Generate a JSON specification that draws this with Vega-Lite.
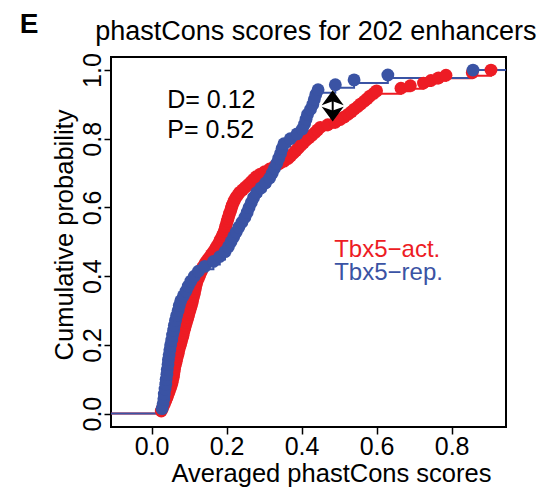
{
  "$schema": "https://vega.github.io/schema/vega-lite/v6.json",
  "autosize": {"type": "none"},
  "padding": {"left": 111, "top": 57, "right": 42, "bottom": 60},
  "width": 395,
  "height": 370,
  "config": {
    "font": "Liberation Sans",
    "view": {"stroke": "black", "strokeWidth": 2},
    "axis": {"grid": false, "domain": false, "tickColor": "black", "tickWidth": 1.5, "tickSize": 7, "labelColor": "black", "titleColor": "black", "labelFontSize": 25, "titleFontSize": 25.5, "titleFontWeight": "normal", "labelFlush": false, "labelOverlap": false, "labelFont": "Liberation Sans", "titleFont": "Liberation Sans"}
  },
  "datasets": {
    "pts": [
      {"g":"a","x":0.026,"y":0.0076},{"g":"a","x":0.029,"y":0.0152},{"g":"a","x":0.032,"y":0.0227},{"g":"a","x":0.035,"y":0.0303},{"g":"a","x":0.038,"y":0.0379},{"g":"a","x":0.041,"y":0.0455},{"g":"a","x":0.043,"y":0.053},{"g":"a","x":0.046,"y":0.0606},{"g":"a","x":0.048,"y":0.0682},{"g":"a","x":0.051,"y":0.0758},
      {"g":"a","x":0.053,"y":0.0833},{"g":"a","x":0.055,"y":0.0909},{"g":"a","x":0.056,"y":0.0985},{"g":"a","x":0.058,"y":0.1061},{"g":"a","x":0.059,"y":0.1136},{"g":"a","x":0.06,"y":0.1212},{"g":"a","x":0.061,"y":0.1288},{"g":"a","x":0.062,"y":0.1364},{"g":"a","x":0.064,"y":0.1439},{"g":"a","x":0.066,"y":0.1515},
      {"g":"a","x":0.067,"y":0.1591},{"g":"a","x":0.069,"y":0.1667},{"g":"a","x":0.071,"y":0.1742},{"g":"a","x":0.072,"y":0.1818},{"g":"a","x":0.074,"y":0.1894},{"g":"a","x":0.076,"y":0.197},{"g":"a","x":0.078,"y":0.2045},{"g":"a","x":0.08,"y":0.2121},{"g":"a","x":0.082,"y":0.2197},{"g":"a","x":0.084,"y":0.2273},
      {"g":"a","x":0.085,"y":0.2348},{"g":"a","x":0.087,"y":0.2424},{"g":"a","x":0.089,"y":0.25},{"g":"a","x":0.091,"y":0.2576},{"g":"a","x":0.093,"y":0.2652},{"g":"a","x":0.095,"y":0.2727},{"g":"a","x":0.097,"y":0.2803},{"g":"a","x":0.099,"y":0.2879},{"g":"a","x":0.101,"y":0.2955},{"g":"a","x":0.103,"y":0.303},
      {"g":"a","x":0.105,"y":0.3106},{"g":"a","x":0.107,"y":0.3182},{"g":"a","x":0.109,"y":0.3258},{"g":"a","x":0.11,"y":0.3333},{"g":"a","x":0.112,"y":0.3409},{"g":"a","x":0.114,"y":0.3485},{"g":"a","x":0.115,"y":0.3561},{"g":"a","x":0.117,"y":0.3636},{"g":"a","x":0.118,"y":0.3712},{"g":"a","x":0.12,"y":0.3788},
      {"g":"a","x":0.122,"y":0.3864},{"g":"a","x":0.125,"y":0.3939},{"g":"a","x":0.128,"y":0.4015},{"g":"a","x":0.131,"y":0.4091},{"g":"a","x":0.134,"y":0.4167},{"g":"a","x":0.136,"y":0.4242},{"g":"a","x":0.14,"y":0.4318},{"g":"a","x":0.144,"y":0.4394},{"g":"a","x":0.149,"y":0.447},{"g":"a","x":0.154,"y":0.4545},
      {"g":"a","x":0.159,"y":0.4621},{"g":"a","x":0.164,"y":0.4697},{"g":"a","x":0.169,"y":0.4773},{"g":"a","x":0.173,"y":0.4848},{"g":"a","x":0.177,"y":0.4924},{"g":"a","x":0.181,"y":0.5},{"g":"a","x":0.184,"y":0.5076},{"g":"a","x":0.188,"y":0.5152},{"g":"a","x":0.191,"y":0.5227},{"g":"a","x":0.194,"y":0.5303},
      {"g":"a","x":0.196,"y":0.5379},{"g":"a","x":0.198,"y":0.5455},{"g":"a","x":0.2,"y":0.553},{"g":"a","x":0.202,"y":0.5606},{"g":"a","x":0.204,"y":0.5682},{"g":"a","x":0.206,"y":0.5758},{"g":"a","x":0.208,"y":0.5833},{"g":"a","x":0.211,"y":0.5909},{"g":"a","x":0.213,"y":0.5985},{"g":"a","x":0.215,"y":0.6061},
      {"g":"a","x":0.218,"y":0.6136},{"g":"a","x":0.221,"y":0.6212},{"g":"a","x":0.225,"y":0.6288},{"g":"a","x":0.23,"y":0.6364},{"g":"a","x":0.235,"y":0.6439},{"g":"a","x":0.243,"y":0.6515},{"g":"a","x":0.25,"y":0.6591},{"g":"a","x":0.258,"y":0.6667},{"g":"a","x":0.265,"y":0.6742},{"g":"a","x":0.272,"y":0.6818},
      {"g":"a","x":0.279,"y":0.6894},{"g":"a","x":0.29,"y":0.697},{"g":"a","x":0.302,"y":0.7045},{"g":"a","x":0.315,"y":0.7121},{"g":"a","x":0.328,"y":0.7197},{"g":"a","x":0.34,"y":0.7273},{"g":"a","x":0.353,"y":0.7348},{"g":"a","x":0.364,"y":0.7424},{"g":"a","x":0.371,"y":0.75},{"g":"a","x":0.378,"y":0.7576},
      {"g":"a","x":0.385,"y":0.7652},{"g":"a","x":0.391,"y":0.7727},{"g":"a","x":0.398,"y":0.7803},{"g":"a","x":0.405,"y":0.7879},{"g":"a","x":0.412,"y":0.7955},{"g":"a","x":0.42,"y":0.803},{"g":"a","x":0.428,"y":0.8106},{"g":"a","x":0.436,"y":0.8182},{"g":"a","x":0.443,"y":0.8258},{"g":"a","x":0.45,"y":0.8333},
      {"g":"a","x":0.47,"y":0.8409},{"g":"a","x":0.49,"y":0.8485},{"g":"a","x":0.503,"y":0.8561},{"g":"a","x":0.514,"y":0.8636},{"g":"a","x":0.524,"y":0.8712},{"g":"a","x":0.533,"y":0.8788},{"g":"a","x":0.541,"y":0.8864},{"g":"a","x":0.55,"y":0.8939},{"g":"a","x":0.558,"y":0.9015},{"g":"a","x":0.567,"y":0.9091},
      {"g":"a","x":0.575,"y":0.9167},{"g":"a","x":0.582,"y":0.9242},{"g":"a","x":0.592,"y":0.9318},{"g":"a","x":0.6,"y":0.9394},{"g":"a","x":0.665,"y":0.947},{"g":"a","x":0.69,"y":0.9545},{"g":"a","x":0.725,"y":0.9621},{"g":"a","x":0.745,"y":0.9697},{"g":"a","x":0.765,"y":0.9773},{"g":"a","x":0.785,"y":0.9848},
      {"g":"a","x":0.855,"y":0.9924},{"g":"a","x":0.905,"y":1.0},
      {"g":"r","x":0.028,"y":0.0143},{"g":"r","x":0.031,"y":0.0286},{"g":"r","x":0.033,"y":0.0429},{"g":"r","x":0.034,"y":0.0571},{"g":"r","x":0.036,"y":0.0714},{"g":"r","x":0.038,"y":0.0857},{"g":"r","x":0.039,"y":0.1},{"g":"r","x":0.041,"y":0.1143},{"g":"r","x":0.042,"y":0.1286},{"g":"r","x":0.044,"y":0.1429},
      {"g":"r","x":0.045,"y":0.1571},{"g":"r","x":0.047,"y":0.1714},{"g":"r","x":0.049,"y":0.1857},{"g":"r","x":0.051,"y":0.2},{"g":"r","x":0.054,"y":0.2143},{"g":"r","x":0.056,"y":0.2286},{"g":"r","x":0.059,"y":0.2429},{"g":"r","x":0.061,"y":0.2571},{"g":"r","x":0.064,"y":0.2714},{"g":"r","x":0.067,"y":0.2857},
      {"g":"r","x":0.071,"y":0.3},{"g":"r","x":0.074,"y":0.3143},{"g":"r","x":0.078,"y":0.3286},{"g":"r","x":0.085,"y":0.3429},{"g":"r","x":0.092,"y":0.3571},{"g":"r","x":0.098,"y":0.3714},{"g":"r","x":0.105,"y":0.3857},{"g":"r","x":0.114,"y":0.4},{"g":"r","x":0.125,"y":0.4143},{"g":"r","x":0.142,"y":0.4286},
      {"g":"r","x":0.165,"y":0.4429},{"g":"r","x":0.182,"y":0.4571},{"g":"r","x":0.196,"y":0.4714},{"g":"r","x":0.205,"y":0.4857},{"g":"r","x":0.212,"y":0.5},{"g":"r","x":0.219,"y":0.5143},{"g":"r","x":0.226,"y":0.5286},{"g":"r","x":0.233,"y":0.5429},{"g":"r","x":0.241,"y":0.5571},{"g":"r","x":0.249,"y":0.5714},
      {"g":"r","x":0.255,"y":0.5857},{"g":"r","x":0.26,"y":0.6},{"g":"r","x":0.266,"y":0.6143},{"g":"r","x":0.272,"y":0.6286},{"g":"r","x":0.28,"y":0.6429},{"g":"r","x":0.292,"y":0.6571},{"g":"r","x":0.304,"y":0.6714},{"g":"r","x":0.315,"y":0.6857},{"g":"r","x":0.322,"y":0.7},{"g":"r","x":0.328,"y":0.7143},
      {"g":"r","x":0.334,"y":0.7286},{"g":"r","x":0.339,"y":0.7429},{"g":"r","x":0.344,"y":0.7571},{"g":"r","x":0.348,"y":0.7714},{"g":"r","x":0.353,"y":0.7857},{"g":"r","x":0.37,"y":0.8},{"g":"r","x":0.388,"y":0.8143},{"g":"r","x":0.402,"y":0.8286},{"g":"r","x":0.408,"y":0.8429},{"g":"r","x":0.412,"y":0.8571},
      {"g":"r","x":0.416,"y":0.8714},{"g":"r","x":0.424,"y":0.8857},{"g":"r","x":0.43,"y":0.9},{"g":"r","x":0.434,"y":0.9143},{"g":"r","x":0.438,"y":0.9286},{"g":"r","x":0.444,"y":0.9429},{"g":"r","x":0.49,"y":0.9571},{"g":"r","x":0.54,"y":0.9714},{"g":"r","x":0.63,"y":0.9857},{"g":"r","x":0.857,"y":1.0}
    ],
    "ends": [
      {"g":"a","x":-0.108,"x2":0.026,"y":0},
      {"g":"a","x":0.905,"x2":0.945,"y":1},
      {"g":"r","x":-0.108,"x2":0.028,"y":0},
      {"g":"r","x":0.857,"x2":0.945,"y":1}
    ]
  },
  "encoding": {
    "x": {"field": "x", "type": "quantitative", "scale": {"domain": [-0.108, 0.945], "nice": false, "zero": false},
      "axis": {"values": [0, 0.2, 0.4, 0.6, 0.8], "format": ".1f", "title": "Averaged phastCons scores", "labelBaseline": "alphabetic", "labelPadding": 20, "titleBaseline": "alphabetic", "titleX": 220, "titleY": 54, "titleAlign": "center"}},
    "y": {"field": "y", "type": "quantitative", "scale": {"domain": [-0.039, 1.038], "nice": false, "zero": false},
      "axis": {"values": [0, 0.2, 0.4, 0.6, 0.8, 1.0], "format": ".1f", "title": "Cumulative probability", "labelAngle": -90, "labelAlign": "center", "labelBaseline": "alphabetic", "labelPadding": 4, "titleAngle": -90, "titleBaseline": "alphabetic", "titleAlign": "center", "titleX": -39, "titleY": 177.5}}
  },
  "layer": [
    {
      "data": {"name": "pts"},
      "mark": {"type": "line", "interpolate": "step-after", "strokeWidth": 2, "yOffset": 3},
      "encoding": {"color": {"field": "g", "type": "nominal", "scale": {"domain": ["a", "r"], "range": ["#ED1C24", "#3A53A4"]}, "legend": null}}
    },
    {
      "data": {"name": "ends"},
      "mark": {"type": "rule", "strokeWidth": 2},
      "encoding": {"x2": {"field": "x2"}, "color": {"field": "g", "type": "nominal", "legend": null}}
    },
    {
      "data": {"name": "pts"},
      "mark": {"type": "circle", "size": 165, "opacity": 1},
      "encoding": {"color": {"field": "g", "type": "nominal", "legend": null}}
    },
    {
      "data": {"values": [{"x": 0.483, "y": 0.86, "y2": 0.93}]},
      "mark": {"type": "rule", "color": "black", "strokeWidth": 2},
      "encoding": {"y2": {"field": "y2"}}
    },
    {
      "data": {"values": [{"x": 0.483, "y": 0.941, "d": "up"}, {"x": 0.483, "y": 0.85, "d": "down"}]},
      "mark": {"type": "point", "filled": true, "opacity": 1, "color": "black", "size": 484},
      "encoding": {"shape": {"field": "d", "type": "nominal", "scale": {"domain": ["up", "down"], "range": ["M0,0L1,1.35L0,1L-1,1.35Z", "M0,0L1,-1.35L0,-1L-1,-1.35Z"]}, "legend": null}}
    },
    {
      "data": {"values": [{"t": "D= 0.12", "x": 0.042, "y": 0.891}, {"t": "P= 0.52", "x": 0.042, "y": 0.801}]},
      "mark": {"type": "text", "align": "left", "baseline": "alphabetic", "fontSize": 25, "color": "black"},
      "encoding": {"text": {"field": "t"}}
    },
    {
      "data": {"values": [{"t": "Tbx5−act.", "g": "a", "x": 0.487, "y": 0.457}, {"t": "Tbx5−rep.", "g": "r", "x": 0.487, "y": 0.389}]},
      "mark": {"type": "text", "align": "left", "baseline": "alphabetic", "fontSize": 24},
      "encoding": {"text": {"field": "t"}, "color": {"field": "g", "type": "nominal", "legend": null}}
    },
    {
      "data": {"values": [{"t": "phastCons scores for 202 enhancers", "x": 0.438, "y": 1.0873}]},
      "mark": {"type": "text", "align": "center", "baseline": "alphabetic", "fontSize": 27, "color": "black"},
      "encoding": {"text": {"field": "t"}}
    },
    {
      "data": {"values": [{"t": "E", "x": -0.351, "y": 1.1077}]},
      "mark": {"type": "text", "align": "left", "baseline": "alphabetic", "fontSize": 28, "fontWeight": "bold", "color": "black"},
      "encoding": {"text": {"field": "t"}}
    },
    {
      "data": {"values": [{"y": 0}, {"y": 1}]},
      "mark": {"type": "rule", "color": "#9a9a9a", "strokeWidth": 1.2, "strokeDash": [2, 2]},
      "encoding": {}
    }
  ]
}
